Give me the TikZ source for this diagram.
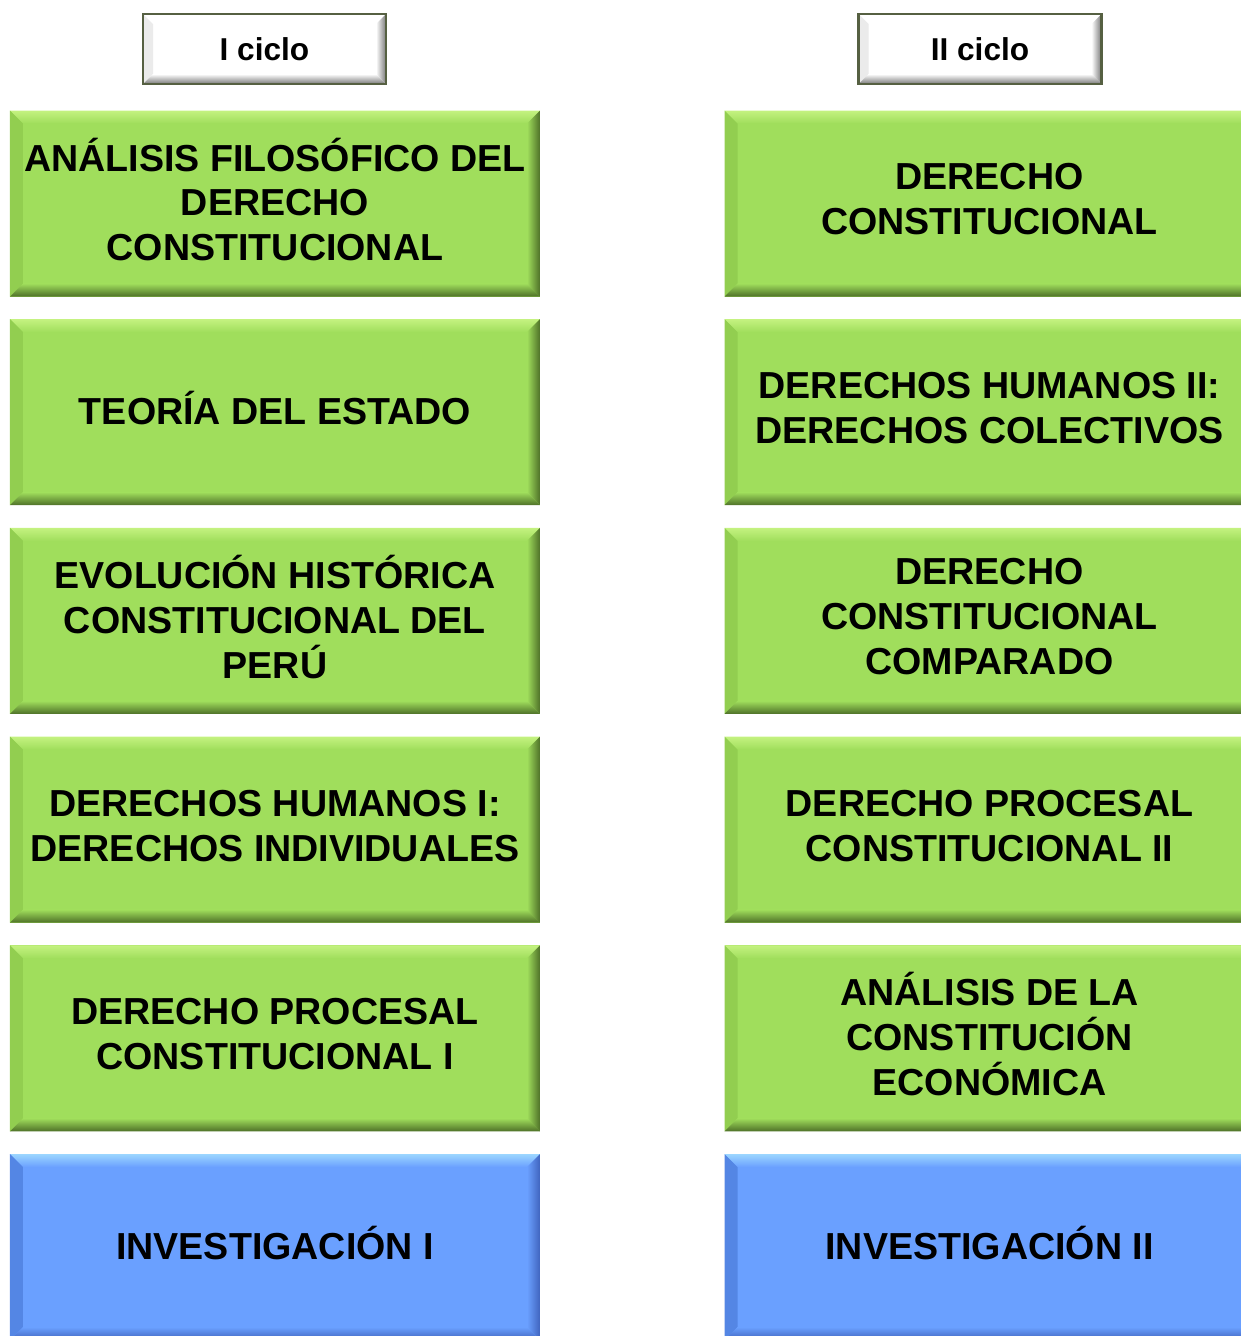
\documentclass[tikz,border=0pt]{standalone}
\usepackage{fontspec}
\setmainfont{Liberation Sans}
\usetikzlibrary{positioning}

\definecolor{leaf}{RGB}{160,222,92}
\definecolor{leaflight}{RGB}{196,242,128}
\definecolor{leafside}{RGB}{146,206,80}
\definecolor{leafdark}{RGB}{78,112,40}
\definecolor{sky}{RGB}{106,160,255}
\definecolor{skylight}{RGB}{156,214,255}
\definecolor{skyside}{RGB}{84,134,228}
\definecolor{skydark}{RGB}{64,100,190}
\definecolor{paper}{RGB}{255,255,255}
\definecolor{paperdark}{RGB}{120,120,120}
\definecolor{olive}{RGB}{86,96,66}

\newbox\liftbox

\tikzset{
  bevel/.style n args={5}{
    fill=#1,
    path picture={
      \path (path picture bounding box.north west) coordinate (bnw)
            (path picture bounding box.north east) coordinate (bne)
            (path picture bounding box.south west) coordinate (bsw)
            (path picture bounding box.south east) coordinate (bse);
      % top, left, right, bottom faces
      \shade[top color=#2, bottom color=#1] (bnw) -- (bne)
        -- ([shift={(-#5,-#5)}]bne) -- ([shift={(#5,-#5)}]bnw) -- cycle;
      \fill[#3] (bnw) -- ([shift={(#5,-#5)}]bnw)
        -- ([shift={(#5,#5)}]bsw) -- (bsw) -- cycle;
      \shade[left color=#1, right color=#4] (bne) -- ([shift={(-#5,-#5)}]bne)
        -- ([shift={(-#5,#5)}]bse) -- (bse) -- cycle;
      \shade[top color=#1, bottom color=#4] (bsw) -- ([shift={(#5,#5)}]bsw)
        -- ([shift={(-#5,#5)}]bse) -- (bse) -- cycle;
    }
  },
  % text sits a little above the middle of the box
  lift/.style={
    execute at begin node={\setbox\liftbox=\hbox\bgroup},
    execute at end node={\egroup\vrule height\ht\liftbox depth\dp\liftbox
      width0pt\smash{\raise#1\copy\liftbox}}
  },
  course/.style={rectangle, inner sep=0pt, align=center,
    minimum width=10.6cm, minimum height=3.72cm, lift=0.08cm,
    font=\fontsize{21.4}{25.6}\selectfont\bfseries},
  green/.style={course, bevel={leaf}{leaflight}{leafside}{leafdark}{0.26cm}},
  blue/.style={course, bevel={sky}{skylight}{skyside}{skydark}{0.26cm}},
  head/.style={rectangle, inner sep=0pt, draw=olive, line width=1.2pt,
    minimum width=4.86cm, minimum height=1.4cm,
    font=\fontsize{18}{21}\selectfont\bfseries,
    bevel={paper}{paper}{paper!92!black}{paperdark}{0.2cm}}
}

\begin{document}
\begin{tikzpicture}[node distance=0.44cm]
  \useasboundingbox (0,0) rectangle (24.82,-26.72);

  % headers
  \node[head] (ciclo1) at (5.29,-0.98) {I ciclo};
  \node[head] (ciclo2) at (19.6,-0.98) {II ciclo};

  % I ciclo
  \node[green] (filosofico) at (5.5,-4.07)
    {ANÁLISIS FILOSÓFICO DEL\\DERECHO\\CONSTITUCIONAL};
  \node[green, below=of filosofico] (teoria) {TEORÍA DEL ESTADO};
  \node[green, below=of teoria] (evolucion)
    {EVOLUCIÓN HISTÓRICA\\CONSTITUCIONAL DEL\\PERÚ};
  \node[green, below=of evolucion] (humanos1)
    {DERECHOS HUMANOS I:\\DERECHOS INDIVIDUALES};
  \node[green, below=of humanos1] (procesal1)
    {DERECHO PROCESAL\\CONSTITUCIONAL I};
  \node[blue, below=of procesal1] (invest1) {INVESTIGACIÓN I};

  % II ciclo
  \node[green] (constitucional) at (19.79,-4.07)
    {DERECHO\\CONSTITUCIONAL};
  \node[green, below=of constitucional] (humanos2)
    {DERECHOS HUMANOS II:\\DERECHOS COLECTIVOS};
  \node[green, below=of humanos2] (comparado)
    {DERECHO\\CONSTITUCIONAL\\COMPARADO};
  \node[green, below=of comparado] (procesal2)
    {DERECHO PROCESAL\\CONSTITUCIONAL II};
  \node[green, below=of procesal2] (economica)
    {ANÁLISIS DE LA\\CONSTITUCIÓN\\ECONÓMICA};
  \node[blue, below=of economica] (invest2) {INVESTIGACIÓN II};
\end{tikzpicture}
\end{document}
